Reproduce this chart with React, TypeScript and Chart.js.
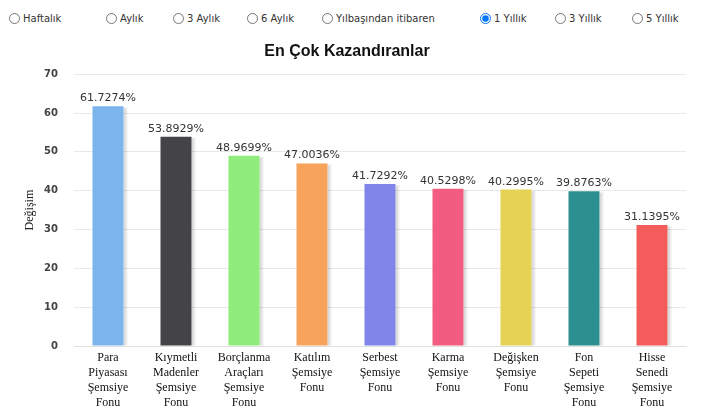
import React, { useEffect, useRef } from "react";
import { Chart, registerables } from "chart.js";

Chart.register(...registerables);

const periods = ["Haftalık", "Aylık", "3 Aylık", "6 Aylık", "Yılbaşından itibaren", "1 Yıllık", "3 Yıllık", "5 Yıllık"];
const selectedPeriod = "1 Yıllık";
const periodLeft = [1, 98, 165, 239, 314, 472, 547, 624];

const categories: string[][] = [
  ["Para", "Piyasası", "Şemsiye", "Fonu"],
  ["Kıymetli", "Madenler", "Şemsiye", "Fonu"],
  ["Borçlanma", "Araçları", "Şemsiye", "Fonu"],
  ["Katılım", "Şemsiye", "Fonu"],
  ["Serbest", "Şemsiye", "Fonu"],
  ["Karma", "Şemsiye", "Fonu"],
  ["Değişken", "Şemsiye", "Fonu"],
  ["Fon", "Sepeti", "Şemsiye", "Fonu"],
  ["Hisse", "Senedi", "Şemsiye", "Fonu"],
];
const values = [61.7274, 53.8929, 48.9699, 47.0036, 41.7292, 40.5298, 40.2995, 39.8763, 31.1395];
const colors = ["#7cb5ec", "#434348", "#90ed7d", "#f7a35c", "#8085e9", "#f15c80", "#e4d354", "#2b908f", "#f45b5b"];
const titleText = "En Çok Kazandıranlar";
const yTitle = "Değişim";

const shadowPlugin = {
  id: "barShadow",
  beforeDatasetsDraw(chart: any) {
    const ctx = chart.ctx;
    const meta = chart.getDatasetMeta(0);
    ctx.save();
    meta.data.forEach((bar: any) => {
      const p = bar.getProps(["x", "y", "base", "width"], true);
      const right = p.x + p.width / 2;
      ctx.fillStyle = "rgba(0,0,0,0.07)";
      ctx.fillRect(right, p.y + 1, 4, p.base - p.y - 1);
      ctx.fillStyle = "rgba(0,0,0,0.09)";
      ctx.fillRect(right, p.y + 2, 2, p.base - p.y - 2);
    });
    ctx.restore();
  },
};

const labelPlugin = {
  id: "barLabels",
  afterDatasetsDraw(chart: any) {
    const ctx = chart.ctx;
    const meta = chart.getDatasetMeta(0);
    ctx.save();
    ctx.font = "11px 'DejaVu Sans'";
    ctx.fillStyle = "#333";
    ctx.textAlign = "center";
    ctx.textBaseline = "alphabetic";
    meta.data.forEach((bar: any, i: number) => {
      const p = bar.getProps(["x", "y"], true);
      ctx.fillText(values[i].toFixed(4) + "%", p.x, p.y - 5);
    });
    ctx.restore();
  },
};

export default function App() {
  const ref = useRef<HTMLCanvasElement>(null);
  useEffect(() => {
    document.body.style.overflow = "hidden";
    const chart = new Chart(ref.current!, {
      type: "bar",
      data: {
        labels: categories,
        datasets: [
          {
            data: values,
            backgroundColor: colors,
            borderWidth: 0,
            categoryPercentage: 1,
            barPercentage: 0.456,
          },
        ],
      },
      options: {
        animation: false,
        responsive: false,
        layout: { padding: { left: 0, right: 18, top: 0, bottom: 0 } },
        plugins: {
          legend: { display: false },
          tooltip: { enabled: false },
          title: {
            display: true,
            text: titleText,
            color: "#111",
            font: { family: "'Liberation Sans'", size: 16, weight: "bold" },
            padding: { top: 6, bottom: 13 },
          },
        },
        scales: {
          x: {
            grid: { display: false, drawTicks: false },
            border: { display: true, color: "#e0e0e0" },
            ticks: {
              color: "#111",
              padding: 4,
              maxRotation: 0,
              autoSkip: false,
              font: { family: "'Liberation Serif'", size: 12, lineHeight: 1.25 },
            },
          },
          y: {
            min: 0,
            max: 70,
            afterFit: (s: any) => {
              s.width = 66;
            },
            ticks: {
              stepSize: 10,
              color: "#444",
              padding: 16,
              font: { family: "'DejaVu Sans'", size: 10, weight: "bold" },
            },
            grid: { color: "#e8e8e8", drawTicks: false },
            border: { display: false },
            title: {
              display: true,
              text: yTitle,
              color: "#222",
              font: { family: "'Liberation Serif'", size: 12 },
              padding: { top: 15, bottom: 0 },
            },
          },
        },
      },
      plugins: [shadowPlugin, labelPlugin],
    });
    return () => chart.destroy();
  }, []);

  return (
    <div style={{ width: 696 }}>
      <div style={{ position: "relative", height: 28, fontFamily: "'DejaVu Sans', sans-serif", fontSize: 10, color: "#333" }}>
        {periods.map((p, i) => (
          <label key={p} style={{ position: "absolute", left: periodLeft[i], top: 5, display: "flex", alignItems: "center", whiteSpace: "nowrap" }}>
            <input type="radio" name="period" defaultChecked={p === selectedPeriod} style={{ margin: "0 3px 0 0", width: 11, height: 11 }} />
            {p}
          </label>
        ))}
      </div>
      <canvas ref={ref} width={696} height={378} style={{ display: "block" }} />
    </div>
  );
}
